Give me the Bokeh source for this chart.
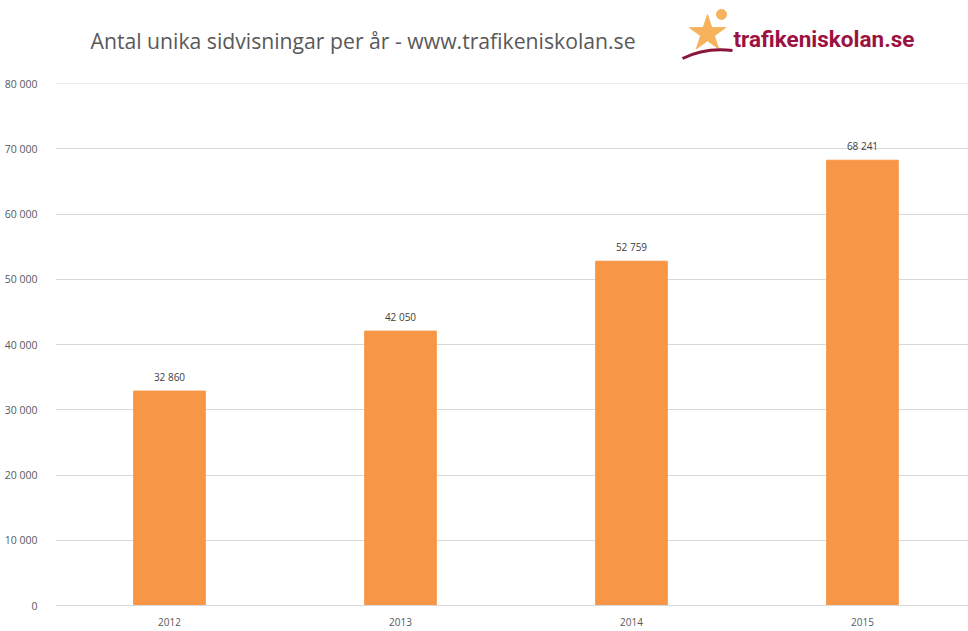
from bokeh.plotting import figure
from bokeh.layouts import column
from bokeh.models import ColumnDataSource, LabelSet, Label, FixedTicker, Range1d
from bokeh.core.properties import value
from bokeh.embed import file_html
from bokeh.resources import INLINE

years = ["2012", "2013", "2014", "2015"]
values = [32860, 42050, 52759, 68241]
y_ticks = [0, 10000, 20000, 30000, 40000, 50000, 60000, 70000, 80000]
title_text = "Antal unika sidvisningar per år - www.trafikeniskolan.se"
logo_text = "trafikeniskolan.se"

def fmt(v):
    return "{:,}".format(v).replace(",", " ")

# ---- header with title and logo (frame is aligned with the chart: x 55..968) ----
hdr = figure(width=968, height=75, output_backend="svg", toolbar_location=None,
             x_range=Range1d(55, 968), y_range=Range1d(75, 0),
             min_border=0, min_border_left=0, min_border_right=0,
             min_border_top=0, min_border_bottom=0)
hdr.axis.visible = False
hdr.grid.visible = False
hdr.outline_line_color = None
hdr.add_layout(Label(x=90, y=40, text=title_text, text_font="Open Sans",
                     text_font_size="21.2px", text_color="#595959", text_baseline="middle"))
# decorative logo figure
hdr.scatter(x=[707], y=[33], marker="star", size=38, color="#F6B35C")
hdr.scatter(x=[721], y=[14], marker="circle", size=10, color="#F6B35C")
hdr.bezier(x0=[682], y0=[58], x1=[732], y1=[50], cx0=[700], cy0=[49], cx1=[716], cy1=[48],
           line_color="#8B1538", line_width=3)
hdr.add_layout(Label(x=733, y=38, text=logo_text, text_font="Roboto",
                     text_font_style="bold", text_font_size="22.5px",
                     text_color="#9B1241", text_baseline="middle"))

# ---- chart ----
xs = list(range(len(years)))
src = ColumnDataSource(dict(x=xs, top=values, lbl=[fmt(v) for v in values]))

p = figure(width=968, height=556, output_backend="svg", toolbar_location=None,
           x_range=Range1d(-0.4935, 3.459), y_range=Range1d(0, 80000),
           min_border_left=55, min_border_right=0, min_border_top=8, min_border_bottom=26)
p.outline_line_color = None

p.vbar(x="x", top="top", width=0.31, bottom=0, source=src, color="#F79646")

p.add_layout(LabelSet(x="x", y="top", text="lbl", source=src, text_align="center",
                      text_baseline="bottom", y_offset=7, text_font_size="10px",
                      text_color="#404040", text_font=value("Open Sans")))

p.xaxis.ticker = FixedTicker(ticks=xs)
p.xaxis.major_label_overrides = {i: y for i, y in enumerate(years)}
p.xaxis.axis_line_color = "#d9d9d9"
p.xaxis.major_tick_line_color = None
p.xaxis.minor_tick_line_color = None
p.xaxis.major_label_text_font_size = "10px"
p.xaxis.major_label_text_color = "#595959"
p.xaxis.major_label_text_font = "Open Sans"
p.xaxis.major_label_standoff = 6
p.xgrid.grid_line_color = None

p.yaxis.ticker = FixedTicker(ticks=y_ticks)
p.yaxis.major_label_overrides = {t: fmt(t) for t in y_ticks}
p.yaxis.axis_line_color = None
p.yaxis.major_tick_line_color = None
p.yaxis.minor_tick_line_color = None
p.yaxis.major_label_text_font_size = "10.5px"
p.yaxis.major_label_text_color = "#595959"
p.yaxis.major_label_text_font = "Open Sans"
p.yaxis.major_label_standoff = 12
p.ygrid.grid_line_color = "#d9d9d9"
p.ygrid.grid_line_width = 1

p.hspan(y=[y_ticks[-1]], line_color="#d9d9d9", line_width=1)

open("out.html", "w").write(file_html(column(hdr, p, spacing=0), INLINE))
